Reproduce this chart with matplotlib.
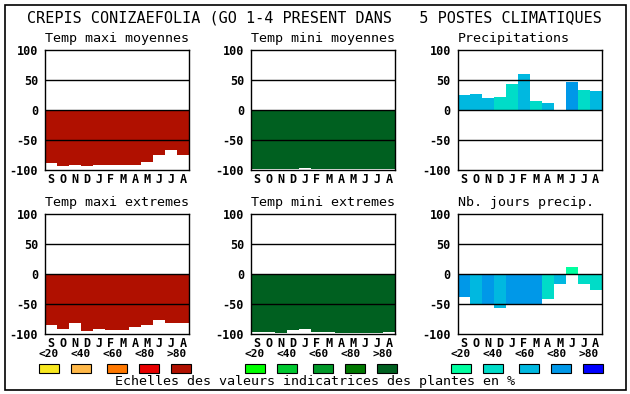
"""Recreate the CREPIS CONIZAEFOLIA climate indicator figure (6 panels)."""
import matplotlib
matplotlib.use("Agg")
import matplotlib.pyplot as plt
from matplotlib.patches import Rectangle
import numpy as np

W, H = 630, 394

months = ["S", "O", "N", "D", "J", "F", "M", "A", "M", "J", "J", "A"]
scale_labels = ["<20", "<40", "<60", "<80", ">80"]

# colour scales (5 classes each)
reds   = ["#F8E820", "#FFB848", "#FF7800", "#E80000", "#B01000"]
greens = ["#00FF00", "#00C830", "#009828", "#007800", "#006020"]
blues  = ["#00FFA0", "#00DCC8", "#00B8E0", "#0098E8", "#0000FF"]

tmax_moy = [-88, -93, -91, -94, -91, -91, -91, -91, -86, -75, -66, -75]
tmin_moy = [-98, -98, -98, -98, -96, -98, -98, -98, -98, -98, -98, -98]
precip   = [25, 27, 20, 22, 43, 60, 15, 12, 0, 47, 33, 32]
precip_cls = [2, 2, 2, 1, 1, 2, 1, 2, 2, 3, 1, 2]
tmax_ext = [-85, -92, -82, -95, -92, -93, -93, -88, -85, -77, -82, -82]
tmin_ext = [-96, -96, -98, -93, -92, -96, -96, -98, -98, -98, -98, -96]
njours   = [-38, -50, -50, -56, -52, -52, -50, -41, -16, 12, -17, -26]
njours_cls = [3, 2, 3, 2, 3, 3, 3, 1, 2, 0, 1, 1]

MONO = "DejaVu Sans Mono"

fig = plt.figure(figsize=(W / 100, H / 100), dpi=100)

# overlay in pixel coordinates for texts, legend and border
ov = fig.add_axes([0, 0, 1, 1])
ov.set_xlim(0, W); ov.set_ylim(H, 0); ov.axis("off")
ov.add_patch(Rectangle((5, 4.5), 620.5, 385.5, fill=False, lw=1.2, ec="black"))

ov.text(314, 18, "CREPIS CONIZAEFOLIA (GO 1-4 PRESENT DANS   5 POSTES CLIMATIQUES",
        family=MONO, fontsize=10.9, ha="center", va="center")

col_x = [45, 251, 457.7]
row_y = [50, 214]
pw, ph = 144, 120

panels = [
    ("Temp maxi moyennes", tmax_moy, [reds[4]] * 12, 0, 0),
    ("Temp mini moyennes", tmin_moy, [greens[4]] * 12, 0, 1),
    ("Precipitations", precip, [blues[c] for c in precip_cls], 0, 2),
    ("Temp maxi extremes", tmax_ext, [reds[4]] * 12, 1, 0),
    ("Temp mini extremes", tmin_ext, [greens[4]] * 12, 1, 1),
    ("Nb. jours precip.", njours, [blues[c] for c in njours_cls], 1, 2),
]

for title, vals, cols, r, c in panels:
    x0, y0 = col_x[c], row_y[r]
    ax = fig.add_axes([x0 / W, 1 - (y0 + ph) / H, pw / W, ph / H])
    ax.bar(np.arange(12), vals, width=1.0, color=cols, zorder=2)
    for yv in (-50, 0, 50):
        ax.axhline(yv, color="black", lw=1.0, zorder=3)
    ax.set_xlim(-0.5, 11.5)
    ax.set_ylim(-100, 100)
    ax.set_xticks(np.arange(12))
    ax.set_xticklabels(months, family=MONO, fontweight="bold", fontsize=8.5)
    ax.set_yticks([-100, -50, 0, 50, 100])
    ax.set_yticklabels(["-100", "-50", "0", "50", "100"], family=MONO,
                       fontweight="bold", fontsize=8.5)
    ax.tick_params(length=0, pad=2)
    ax.tick_params(axis="y", pad=5)
    for s in ax.spines.values():
        s.set_linewidth(1.0)
    ov.text(x0, y0 - 12, title, family=MONO, fontsize=9.6, ha="left", va="center")

# legend scales
for c, pal in enumerate([reds, greens, blues]):
    off = c * 206
    for i in range(5):
        ov.text(49 + off + 32 * i, 354, scale_labels[i], family=MONO,
                fontweight="bold", fontsize=8, ha="center", va="center")
        bx = [39, 71, 107, 139, 171][i] + off
        ov.add_patch(Rectangle((bx, 364), 20, 9, fc=pal[i], ec="black", lw=0.8))

ov.text(315, 382, "Echelles des valeurs indicatrices des plantes en %",
        family=MONO, fontsize=9.6, ha="center", va="center")

fig.savefig("out.png", dpi=100)
